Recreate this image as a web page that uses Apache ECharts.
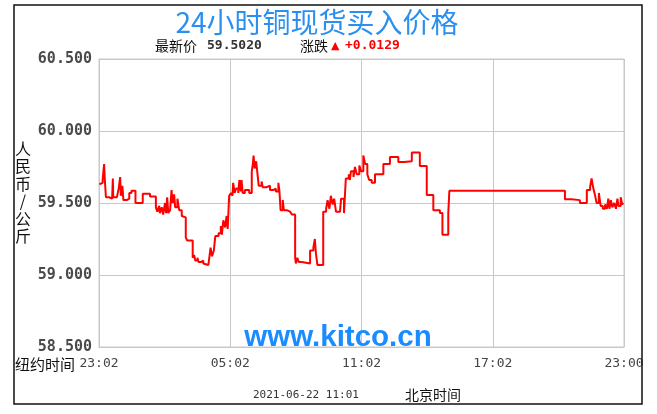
<!DOCTYPE html>
<html><head><meta charset="utf-8">
<script src="https://cdn.jsdelivr.net/npm/echarts@6/dist/echarts.min.js"></script>
<style>html,body{margin:0;padding:0;background:#fff}#c{width:657px;height:414px}</style>
</head><body><div id="c"></div>
<script>
const titleText = '24小时铜现货买入价格';
const latestLabel = '最新价';
const latestPrice = '59.5020';
const changeLabel = '涨跌';
const changeValue = '+0.0129';
const yAxisName = '人民币/公斤';
const xAxisName = '纽约时间';
const xTickLabels = ['23:02', '05:02', '11:02', '17:02', '23:00'];
const footerTime = '2021-06-22 11:01';
const footerZone = '北京时间';
const watermark = 'www.kitco.cn';
// minutes after 23:02 New York time, and price (CNY/kg)
const minutes = [1,5,10,14,16,19,28,36,38,39,49,54,58,60,64,67,76,83,89,100,120,140,156,160,165,167,172,176,181,184,187,190,195,199,202,206,209,215,220,227,231,238,242,257,261,264,270,273,280,286,291,300,303,306,310,315,319,328,334,337,341,346,350,353,357,362,366,368,372,376,382,385,389,391,394,400,412,419,422,424,427,431,434,438,446,449,460,464,469,478,485,492,495,498,504,507,515,524,529,538,540,544,548,556,560,579,588,592,595,599,615,623,627,632,636,641,645,650,661,664,672,677,685,688,691,698,702,707,714,719,725,730,736,741,748,757,780,798,821,837,858,880,899,917,935,942,958,961,1278,1296,1319,1338,1347,1351,1356,1360,1365,1371,1376,1382,1388,1393,1397,1400,1404,1408,1413,1418,1422,1425,1431,1435,1438];
const prices = [59.63,59.64,59.66,59.77,59.66,59.54,59.53,59.54,59.67,59.54,59.55,59.60,59.68,59.55,59.62,59.52,59.53,59.57,59.585,59.50,59.565,59.545,59.47,59.44,59.48,59.43,59.47,59.42,59.50,59.43,59.54,59.43,59.45,59.59,59.50,59.56,59.47,59.53,59.45,59.41,59.40,59.26,59.24,59.12,59.14,59.10,59.12,59.09,59.10,59.08,59.07,59.08,59.13,59.19,59.13,59.17,59.27,59.29,59.34,59.28,59.38,59.33,59.41,59.32,59.55,59.57,59.55,59.64,59.57,59.60,59.57,59.66,59.58,59.66,59.57,59.59,59.57,59.72,59.77,59.83,59.74,59.79,59.72,59.62,59.65,59.61,59.60,59.62,59.59,59.60,59.58,59.64,59.58,59.45,59.52,59.45,59.44,59.445,59.42,59.12,59.08,59.12,59.09,59.10,59.08,59.17,59.19,59.25,59.15,59.07,59.44,59.46,59.52,59.46,59.55,59.49,59.53,59.44,59.45,59.53,59.43,59.67,59.70,59.66,59.72,59.68,59.75,59.70,59.76,59.72,59.83,59.77,59.70,59.66,59.64,59.70,59.77,59.82,59.785,59.79,59.85,59.757,59.556,59.45,59.43,59.28,59.43,59.585,59.526,59.52,59.50,59.59,59.61,59.67,59.60,59.56,59.50,59.57,59.48,59.46,59.49,59.46,59.53,59.46,59.52,59.47,59.50,59.46,59.53,59.48,59.54,59.49,59.50];

const chart = echarts.init(document.getElementById('c'), null, {renderer: 'canvas'});
const gridColor = '#c8c8c8';
const blue = '#2a90f0';
chart.setOption({
  animation: false,
  backgroundColor: '#ffffff',
  grid: {left: 99, top: 59, right: 33, bottom: 67, show: true, borderColor: gridColor, borderWidth: 1},
  xAxis: {
    type: 'value', min: 0, max: 1440, interval: 360,
    axisLine: {show: true, lineStyle: {color: gridColor}},
    axisTick: {show: false},
    splitLine: {show: true, lineStyle: {color: gridColor, width: 1}},
    axisLabel: {
      formatter: v => xTickLabels[Math.round(v / 360)],
      color: '#444', fontFamily: 'DejaVu Sans Mono', fontSize: 13, margin: 10,
      showMinLabel: true, showMaxLabel: true
    }
  },
  yAxis: {
    type: 'value', min: 58.5, max: 60.5, interval: 0.5,
    axisLine: {show: true, lineStyle: {color: gridColor}},
    axisTick: {show: false},
    splitLine: {show: true, lineStyle: {color: gridColor, width: 1}},
    axisLabel: {
      formatter: v => v.toFixed(3),
      color: '#4a4a4a', fontFamily: 'DejaVu Sans Mono', fontWeight: 'bold', fontSize: 15, margin: 7
    }
  },
  series: [{
    type: 'line', step: 'end', showSymbol: false,
    data: minutes.map((m, i) => [m, prices[i]]),
    lineStyle: {color: '#ff0000', width: 2}
  }],
  graphic: [
    {type: 'rect', z: 99, shape: {x: 643, y: 0, width: 14, height: 414}, style: {fill: '#fff'}},
    {type: 'rect', z: 100, shape: {x: 14, y: 5, width: 628, height: 399}, style: {fill: 'none', stroke: '#111', lineWidth: 1.5}},
    {type: 'text', z: 100, x: 317, y: 22, style: {text: titleText, fill: blue, fontSize: 28, fontFamily: 'Noto Sans CJK SC', align: 'center', verticalAlign: 'middle'}},
    {type: 'text', z: 100, x: 155, y: 46, style: {text: latestLabel, fill: '#111', fontSize: 14, fontFamily: 'Noto Sans CJK SC', verticalAlign: 'middle'}},
    {type: 'text', z: 100, x: 207, y: 46, style: {text: latestPrice, fill: '#333', fontSize: 13, fontWeight: 'bold', fontFamily: 'DejaVu Sans Mono', verticalAlign: 'middle'}},
    {type: 'text', z: 100, x: 300, y: 46, style: {text: changeLabel, fill: '#111', fontSize: 14, fontFamily: 'Noto Sans CJK SC', verticalAlign: 'middle'}},
    {type: 'text', z: 100, x: 331, y: 46, style: {text: '▲', fill: '#ff0000', fontSize: 11, fontFamily: 'DejaVu Sans', verticalAlign: 'middle'}},
    {type: 'text', z: 100, x: 345, y: 46, style: {text: changeValue, fill: '#ff0000', fontSize: 13, fontWeight: 'bold', fontFamily: 'DejaVu Sans Mono', verticalAlign: 'middle'}},
    {type: 'text', z: 100, x: 338, y: 338, style: {text: watermark, fill: '#1a8cff', fontSize: 29.5, fontWeight: 'bold', fontFamily: 'Liberation Sans', align: 'center', verticalAlign: 'middle'}},
    {type: 'text', z: 100, x: 23, y: 140, style: {text: yAxisName.split('').join('\n'), fill: '#111', fontSize: 16, lineHeight: 17.5, fontFamily: 'Noto Sans CJK SC', align: 'center', verticalAlign: 'top'}},
    {type: 'text', z: 100, x: 15, y: 364, style: {text: xAxisName, fill: '#111', fontSize: 15, fontFamily: 'Noto Sans CJK SC', verticalAlign: 'middle'}},
    {type: 'text', z: 100, x: 253, y: 395, style: {text: footerTime, fill: '#333', fontSize: 11, fontFamily: 'DejaVu Sans Mono', verticalAlign: 'middle'}},
    {type: 'text', z: 100, x: 405, y: 395, style: {text: footerZone, fill: '#111', fontSize: 14, fontFamily: 'Noto Sans CJK SC', verticalAlign: 'middle'}}
  ]
});
</script></body></html>
